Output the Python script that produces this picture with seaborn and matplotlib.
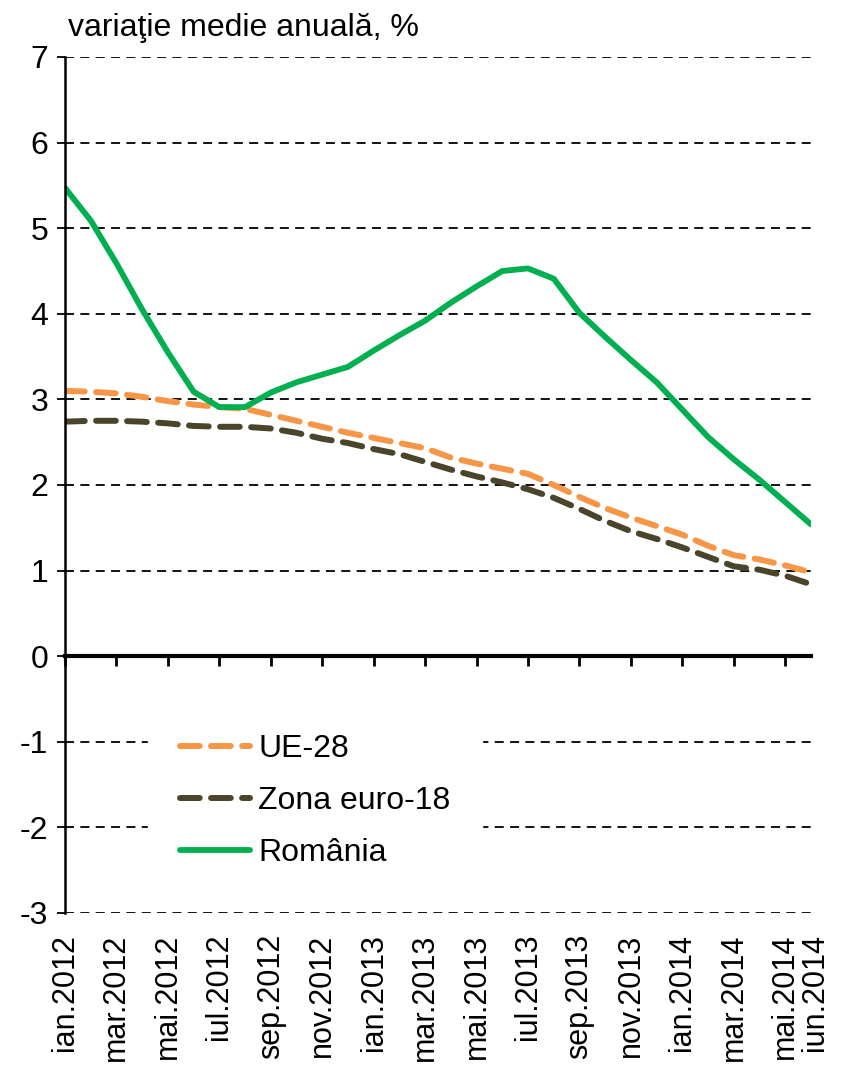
import seaborn as sns
import matplotlib.pyplot as plt
import matplotlib.transforms as mtransforms
import pandas as pd

# Monthly data, ian.2012 - iun.2014
months = ["ian.2012", "feb.2012", "mar.2012", "apr.2012", "mai.2012", "iun.2012",
          "iul.2012", "aug.2012", "sep.2012", "oct.2012", "nov.2012", "dec.2012",
          "ian.2013", "feb.2013", "mar.2013", "apr.2013", "mai.2013", "iun.2013",
          "iul.2013", "aug.2013", "sep.2013", "oct.2013", "nov.2013", "dec.2013",
          "ian.2014", "feb.2014", "mar.2014", "apr.2014", "mai.2014", "iun.2014"]

ue28 = [3.10, 3.09, 3.07, 3.03, 2.98, 2.94, 2.91, 2.89, 2.82, 2.75, 2.68, 2.61,
        2.55, 2.49, 2.43, 2.32, 2.25, 2.19, 2.13, 2.00, 1.86, 1.73, 1.62, 1.52,
        1.42, 1.29, 1.18, 1.13, 1.06, 0.98]

zona_euro = [2.74, 2.75, 2.75, 2.74, 2.72, 2.69, 2.68, 2.68, 2.66, 2.61, 2.54, 2.49,
             2.42, 2.36, 2.27, 2.18, 2.10, 2.03, 1.95, 1.85, 1.72, 1.58, 1.46, 1.37,
             1.27, 1.16, 1.05, 1.01, 0.94, 0.84]

romania = [5.47, 5.09, 4.59, 4.05, 3.55, 3.09, 2.91, 2.91, 3.08, 3.20, 3.29, 3.38,
           3.57, 3.75, 3.92, 4.13, 4.32, 4.50, 4.53, 4.41, 4.01, 3.73, 3.46, 3.20,
           2.88, 2.56, 2.30, 2.06, 1.80, 1.54]

x_label_idx = list(range(0, 29, 2)) + [29]

df = pd.DataFrame({"idx": range(len(months)), "UE-28": ue28,
                   "Zona euro-18": zona_euro, "România": romania})

sns.set_style("white")
plt.rcParams['font.family'] = ['Liberation Sans', 'DejaVu Sans']
plt.rcParams['axes.unicode_minus'] = False
plt.rcParams['text.color'] = 'black'
plt.rcParams['xtick.color'] = 'black'
plt.rcParams['ytick.color'] = 'black'

FS = 23

fig = plt.figure(figsize=(8.42, 10.71), dpi=100)
ax = fig.add_axes([65 / 842, 1 - 913 / 1071, 746 / 842, 856 / 1071])

sns.lineplot(data=df, x="idx", y="UE-28", ax=ax, color="#F79646", lw=4.3,
             linestyle=(0, (3.3, 1.9)), dash_capstyle="round", label="UE-28")
sns.lineplot(data=df, x="idx", y="Zona euro-18", ax=ax, color="#4A452A", lw=4.3,
             linestyle=(0, (3.3, 1.9)), dash_capstyle="round", label="Zona euro-18")
sns.lineplot(data=df, x="idx", y="România", ax=ax, color="#00B050", lw=4.2,
             label="România")

ax.set_xlim(0, len(months) - 1)
ax.set_ylim(-3, 7)
ax.set_yticks(range(-3, 8))
ax.set_xlabel("")
ax.set_ylabel("")

# horizontal dashed grid (except at 0, where the axis line sits)
for v in range(-3, 8):
    if v != 0:
        ax.axhline(v, color="black", lw=1.3, linestyle=(0, (5, 3.5)), zorder=0.5)

for s in ["top", "right"]:
    ax.spines[s].set_visible(False)
ax.spines["left"].set_color("black")
ax.spines["left"].set_linewidth(1.8)
ax.spines["bottom"].set_position(("data", 0))
ax.spines["bottom"].set_color("black")
ax.spines["bottom"].set_linewidth(3)

ax.tick_params(axis="y", left=True, length=6, width=1.3,
               labelsize=FS, pad=6, direction="out")
ax.set_xticks(range(0, 29, 2))
ax.tick_params(axis="x", bottom=True, length=7, width=2,
               labelbottom=False, direction="out")

# month labels below the plot area
sec = ax.secondary_xaxis("bottom")
sec.set_xticks(x_label_idx)
sec.set_xticklabels([months[i] for i in x_label_idx], rotation=90, fontsize=22)
sec.tick_params(length=0, pad=15)
sec.spines["bottom"].set_visible(False)
last = sec.get_xticklabels()[-1]
last.set_transform(last.get_transform() +
                   mtransforms.ScaledTranslation(4 / 100, 0, fig.dpi_scale_trans))

leg = ax.legend(loc="upper left", bbox_to_anchor=(0.111, 0.246), frameon=True,
                fontsize=FS, handlelength=2.2, handletextpad=0.25,
                labelspacing=0.68, borderpad=1.0, borderaxespad=0)
leg.get_frame().set_facecolor("white")
leg.get_frame().set_edgecolor("white")
leg.get_frame().set_alpha(1)
leg.get_frame().set_boxstyle("square", pad=0)
for t in leg.get_texts():
    t.set_color("black")

fig.text(68 / 842, 1 - 36 / 1071, "variaţie medie anuală, %", fontsize=FS,
         va="baseline", ha="left")

fig.savefig("out.png", dpi=100)
